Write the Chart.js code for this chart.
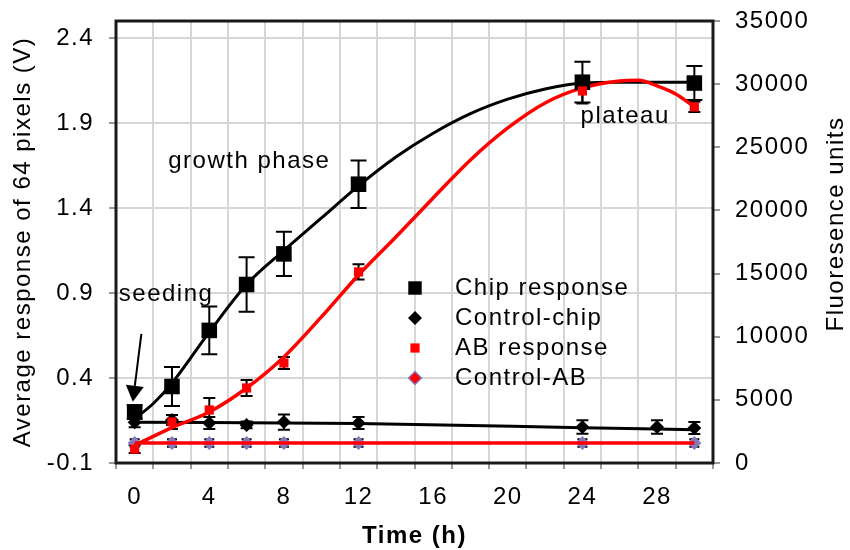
<!DOCTYPE html>
<html>
<head>
<meta charset="utf-8">
<script src="https://cdn.jsdelivr.net/npm/chart.js@4.4.1/dist/chart.umd.min.js"></script>
<style>
html, body { margin: 0; padding: 0; background: #fff; }
#wrap { width: 850px; height: 550px; }
</style>
</head>
<body>
<div id="wrap"><canvas id="chart" width="850" height="550"></canvas></div>
<script>
// measured points, time in hours
const chipTimes = [0, 2, 4, 6, 8, 12, 24, 30];
const chipVolts = [0.20, 0.35, 0.68, 0.95, 1.13, 1.54, 2.14, 2.135];
const chipErr = [0.04, 0.115, 0.14, 0.16, 0.13, 0.14, 0.12, 0.10];

const ctrlChipTimes = [0, 2, 4, 6, 8, 12, 24, 28, 30];
const ctrlChipVolts = [0.14, 0.153, 0.135, 0.124, 0.141, 0.135, 0.112, 0.112, 0.106];
const ctrlChipErr = [0.03, 0.03, 0.035, 0.02, 0.045, 0.035, 0.04, 0.04, 0.035];

const abTimes = [0, 2, 4, 6, 8, 12, 24, 30];
const abFluo = [1100, 3250, 4200, 5940, 7920, 15130, 29460, 28200];
const abErr = [300, 550, 950, 630, 475, 600, 1000, 400];

const ctrlAbTimes = [0, 2, 4, 6, 8, 12, 24, 30];
const ctrlAbFluo = [1580, 1580, 1580, 1580, 1580, 1580, 1580, 1580];
const ctrlAbErr = [300, 300, 300, 300, 300, 300, 300, 300];

// fitted curves
const chipFitTimes = [0, 1, 2, 4, 6, 8, 10, 12, 14, 16, 18, 20, 22, 24, 26, 28, 30];
const chipFitVolts = [0.16, 0.25, 0.37, 0.67, 0.95, 1.15, 1.34, 1.53, 1.70, 1.84, 1.955, 2.04, 2.10, 2.135, 2.14, 2.14, 2.14];
const abFitTimes = [0, 2, 4, 6, 8, 10, 12, 14, 16, 18, 20, 22, 24, 26, 27, 28, 29, 30];
const abFitFluo = [1400, 2800, 4040, 5940, 8400, 11550, 14890, 17900, 20990, 24000, 26530, 28510, 29700, 30250, 30300, 29860, 29220, 28200];
const ctrlChipFitTimes = [0, 12, 24, 30];
const ctrlChipFitVolts = [0.14, 0.133, 0.108, 0.095];
const ctrlAbFitTimes = [0, 30];
const ctrlAbFitFluo = [1580, 1580];

const leftTicks = [-0.1, 0.4, 0.9, 1.4, 1.9, 2.4];
const timeLabels = [0, 4, 8, 12, 16, 20, 24, 28];

const legendNames = ['Chip response', 'Control-chip', 'AB response', 'Control-AB'];

const noteTexts = ['seeding', 'growth phase', 'plateau'];
const noteTimes = [-0.85, 1.8, 23.9];
const noteVolts = [0.894, 1.676, 1.941];
const arrowTimes = [0.36, -0.1];
const arrowVolts = [0.66, 0.26];

const FONT = '"Liberation Sans", Arial, Helvetica, sans-serif';
const PURPLE = '#8878bc';
const GRID = '#d6d6d6';

Chart.defaults.font.family = FONT;
Chart.defaults.font.size = 24;
Chart.defaults.color = '#000';

function pts(xs, ys) {
    return xs.map((x, i) => ({ x: x, y: ys[i] }));
}

const datasets = [
    { label: 'AB response', data: pts(abTimes, abFluo), yAxisID: 'y2', errors: abErr, cap: 12,
      pointStyle: 'rect', pointRadius: 6.5, backgroundColor: '#ff0000', borderColor: '#ff0000', borderWidth: 0 },
    { label: 'Chip response', data: pts(chipTimes, chipVolts), yAxisID: 'y', errors: chipErr, cap: 16,
      pointStyle: 'rect', pointRadius: 11, backgroundColor: '#000', borderColor: '#000', borderWidth: 0 },
    { label: 'Control-chip', data: pts(ctrlChipTimes, ctrlChipVolts), yAxisID: 'y', errors: ctrlChipErr, cap: 12,
      pointStyle: 'rectRot', pointRadius: 7, backgroundColor: '#000', borderColor: '#000', borderWidth: 0 },
    { label: 'AB fit', data: pts(abFitTimes, abFitFluo), yAxisID: 'y2', showLine: true, pointRadius: 0,
      borderColor: '#ff0000', borderWidth: 3.5, cubicInterpolationMode: 'monotone' },
    { label: 'Control-AB fit', data: pts(ctrlAbFitTimes, ctrlAbFitFluo), yAxisID: 'y2', showLine: true, pointRadius: 0,
      borderColor: '#ff0000', borderWidth: 3.5 },
    { label: 'Control-AB', data: pts(ctrlAbTimes, ctrlAbFluo), yAxisID: 'y2', errors: ctrlAbErr, cap: 10,
      pointStyle: 'rectRot', pointRadius: 7, backgroundColor: PURPLE, borderColor: PURPLE, borderWidth: 0 },
    { label: 'Chip fit', data: pts(chipFitTimes, chipFitVolts), yAxisID: 'y', showLine: true, pointRadius: 0,
      borderColor: '#000', borderWidth: 3, cubicInterpolationMode: 'monotone' },
    { label: 'Control-chip fit', data: pts(ctrlChipFitTimes, ctrlChipFitVolts), yAxisID: 'y', showLine: true, pointRadius: 0,
      borderColor: '#000', borderWidth: 3, cubicInterpolationMode: 'monotone' }
];

// which dataset each legend row shows
const legendSets = [1, 2, 0, 5];

function marker(ctx, style, x, y, r, fill, stroke) {
    ctx.beginPath();
    if (style === 'rect') {
        const s = r * Math.SQRT1_2;
        ctx.rect(x - s, y - s, 2 * s, 2 * s);
    } else {
        ctx.moveTo(x - r, y);
        ctx.lineTo(x, y - r);
        ctx.lineTo(x + r, y);
        ctx.lineTo(x, y + r);
        ctx.closePath();
    }
    ctx.fillStyle = fill;
    ctx.fill();
    if (stroke) {
        ctx.strokeStyle = stroke;
        ctx.lineWidth = 1.5;
        ctx.stroke();
    }
}

// keep the plot box where the axes say, without label padding
function noPad(axis) {
    axis.paddingTop = 0;
    axis.paddingBottom = 0;
    axis.paddingLeft = 0;
    axis.paddingRight = 0;
}

const spacing = {
    id: 'spacing',
    beforeDraw(chart) {
        chart.ctx.letterSpacing = '1.5px';
    }
};

const errorBars = {
    id: 'errorBars',
    beforeDatasetsDraw(chart) {
        const ctx = chart.ctx;
        const xs = chart.scales.x;
        ctx.save();
        ctx.strokeStyle = '#000';
        ctx.lineWidth = 2;
        chart.data.datasets.forEach(ds => {
            if (!ds.errors) return;
            const ys = chart.scales[ds.yAxisID];
            const w = ds.cap / 2;
            ds.data.forEach((p, j) => {
                const x = xs.getPixelForValue(p.x);
                const top = ys.getPixelForValue(p.y + ds.errors[j]);
                const bot = ys.getPixelForValue(p.y - ds.errors[j]);
                ctx.beginPath();
                ctx.moveTo(x, top); ctx.lineTo(x, bot);
                ctx.moveTo(x - w, top); ctx.lineTo(x + w, top);
                ctx.moveTo(x - w, bot); ctx.lineTo(x + w, bot);
                ctx.stroke();
            });
        });
        ctx.restore();
    }
};

const extras = {
    id: 'extras',
    afterDraw(chart) {
        const { ctx, chartArea } = chart;
        const xs = chart.scales.x, ys = chart.scales.y;
        ctx.save();

        // plot frame
        ctx.strokeStyle = '#1a1a1a';
        ctx.lineWidth = 3;
        ctx.strokeRect(chartArea.left, chartArea.top, chartArea.right - chartArea.left, chartArea.bottom - chartArea.top);

        // notes
        ctx.fillStyle = '#000';
        ctx.font = '24px ' + FONT;
        ctx.textAlign = 'left';
        ctx.textBaseline = 'middle';
        noteTexts.forEach((t, i) => {
            ctx.fillText(t, xs.getPixelForValue(noteTimes[i]), ys.getPixelForValue(noteVolts[i]));
        });

        // seeding arrow
        const x1 = xs.getPixelForValue(arrowTimes[0]), y1 = ys.getPixelForValue(arrowVolts[0]);
        const x2 = xs.getPixelForValue(arrowTimes[1]), y2 = ys.getPixelForValue(arrowVolts[1]);
        const ang = Math.atan2(y2 - y1, x2 - x1);
        const head = 16, half = 9;
        const bx = x2 - head * Math.cos(ang), by = y2 - head * Math.sin(ang);
        ctx.strokeStyle = '#000';
        ctx.lineWidth = 2;
        ctx.beginPath();
        ctx.moveTo(x1, y1);
        ctx.lineTo(bx, by);
        ctx.stroke();
        ctx.beginPath();
        ctx.moveTo(x2, y2);
        ctx.lineTo(bx + half * Math.sin(ang), by - half * Math.cos(ang));
        ctx.lineTo(bx - half * Math.sin(ang), by + half * Math.cos(ang));
        ctx.closePath();
        ctx.fill();

        // legend
        const mx = chartArea.left + 299, tx = chartArea.left + 339, ly = chartArea.top + 267;
        legendNames.forEach((name, i) => {
            const ds = chart.data.datasets[legendSets[i]];
            const y = ly + i * 30;
            let r = ds.pointRadius, fill = ds.backgroundColor, stroke = null;
            if (ds.label === 'Chip response') r = 9.5;
            if (ds.label === 'Control-AB') { fill = '#ff0000'; stroke = PURPLE; r = 6.5; }
            marker(ctx, ds.pointStyle, mx, y, r, fill, stroke);
            ctx.fillStyle = '#000';
            ctx.fillText(name, tx, y);
        });

        // right axis title, reading bottom to top
        ctx.translate(chart.scales.y2.right - 14, 224);
        ctx.rotate(-Math.PI / 2);
        ctx.textAlign = 'center';
        ctx.fillText('Fluoresence units', 0, 0);
        ctx.restore();
    }
};

new Chart(document.getElementById('chart').getContext('2d'), {
    type: 'scatter',
    data: { datasets: datasets },
    options: {
        responsive: false,
        animation: false,
        events: [],
        layout: { padding: { top: 21, left: 0, right: 0, bottom: 0 } },
        plugins: { legend: { display: false }, tooltip: { enabled: false } },
        scales: {
            x: {
                type: 'linear',
                min: -1,
                max: 31,
                afterBuildTicks: axis => {
                    const list = [];
                    for (let v = -1; v <= 31; v++) list.push({ value: v });
                    axis.ticks = list;
                },
                afterFit: axis => { axis.height = 87; noPad(axis); },
                border: { display: false },
                grid: {
                    lineWidth: 2,
                    tickLength: 6,
                    color: c => (c.tick && Math.abs(c.tick.value % 2) === 1 && c.tick.value > -1 && c.tick.value < 31) ? GRID : 'transparent',
                    tickColor: c => (c.tick && Math.abs(c.tick.value % 2) === 1) ? '#999' : 'transparent'
                },
                ticks: {
                    autoSkip: false,
                    maxRotation: 0,
                    padding: 14,
                    callback: v => timeLabels.includes(v) ? String(v) : ''
                },
                title: {
                    display: true,
                    text: 'Time (h)',
                    font: { size: 24, weight: 'bold', lineHeight: 1.15 },
                    padding: { top: 0, bottom: 0 }
                }
            },
            y: {
                position: 'left',
                min: -0.1,
                max: 2.5,
                afterBuildTicks: axis => { axis.ticks = leftTicks.map(v => ({ value: v })); },
                afterFit: axis => { axis.width = 116; noPad(axis); },
                border: { display: false },
                grid: { color: GRID, lineWidth: 2, tickLength: 7, tickColor: '#999' },
                ticks: { padding: 15, callback: v => v.toFixed(1) },
                title: {
                    display: true,
                    text: 'Average response of 64 pixels (V)',
                    font: { size: 24, lineHeight: 1.15 },
                    padding: { top: 10, bottom: 0 }
                }
            },
            y2: {
                position: 'right',
                min: 0,
                max: 35000,
                ticks: { stepSize: 5000, padding: 15, callback: v => String(v) },
                afterFit: axis => { axis.width = 137; noPad(axis); },
                border: { display: false },
                grid: { drawOnChartArea: false, tickLength: 7, tickColor: '#999', lineWidth: 2 }
            }
        }
    },
    plugins: [spacing, errorBars, extras]
});
</script>
</body>
</html>
